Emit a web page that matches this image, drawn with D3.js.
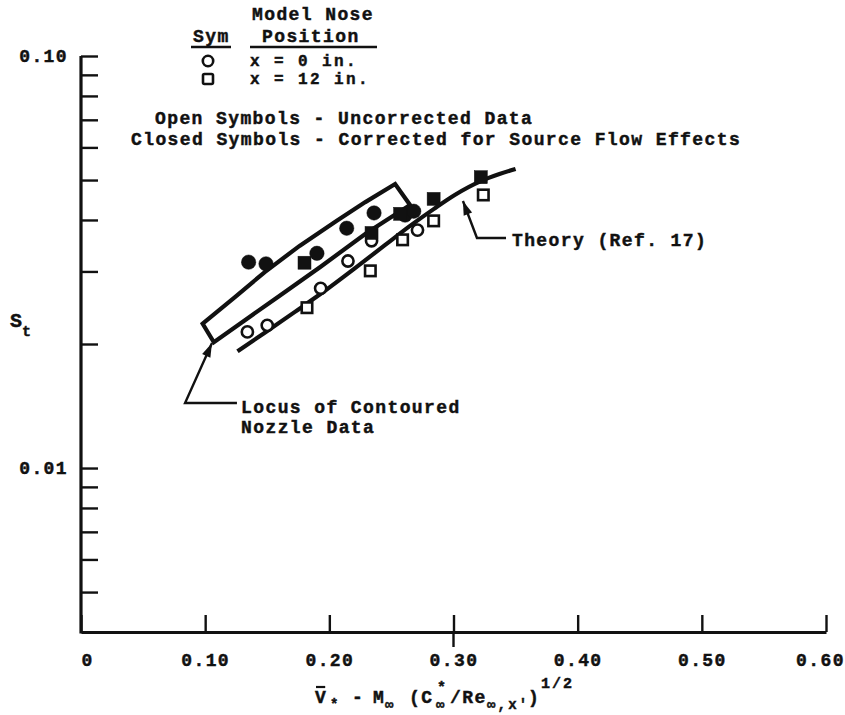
<!DOCTYPE html>
<html>
<head>
<meta charset="utf-8">
<script src="https://cdn.jsdelivr.net/npm/d3@7"></script>
<style>
  body { margin: 0; background: #fff; }
  text { font-family: "Liberation Mono", "DejaVu Sans Mono", monospace; font-weight: bold; fill: #111; stroke: #111; stroke-width: 0.45px; }
</style>
</head>
<body>
<svg id="chart" width="845" height="715"></svg>
<script>
// Stanton number vs. viscous interaction parameter, x = 0 and x = 12 in. nose positions

const xTicks = [0, 0.10, 0.20, 0.30, 0.40, 0.50, 0.60];
const xTickLabels = ["0", "0.10", "0.20", "0.30", "0.40", "0.50", "0.60"];
const yTicks = [0.005, 0.006, 0.007, 0.008, 0.009, 0.01, 0.02, 0.03, 0.04, 0.05, 0.06, 0.07, 0.08, 0.09, 0.10];
const yLabelValues = [0.01, 0.10];
const yLabelText = ["0.01", "0.10"];

// x = 0 in., uncorrected (open circles)
const openCircleV = [0.134, 0.150, 0.193, 0.215, 0.234, 0.271];
const openCircleS = [0.0214, 0.0222, 0.0273, 0.0318, 0.0356, 0.0378];
// x = 0 in., corrected for source flow (closed circles)
const closedCircleV = [0.135, 0.149, 0.190, 0.214, 0.236, 0.261, 0.268];
const closedCircleS = [0.0316, 0.0313, 0.0332, 0.0382, 0.0416, 0.0411, 0.0420];
// x = 12 in., uncorrected (open squares)
const openSquareV = [0.182, 0.233, 0.259, 0.284, 0.324];
const openSquareS = [0.0245, 0.0301, 0.0358, 0.0398, 0.0460];
// x = 12 in., corrected for source flow (closed squares)
const closedSquareV = [0.180, 0.234, 0.257, 0.284, 0.322];
const closedSquareS = [0.0315, 0.0372, 0.0414, 0.0450, 0.0508];

// Theory (Ref. 17)
const theoryV = [0.126, 0.148, 0.172, 0.197, 0.221, 0.245, 0.265, 0.284, 0.301, 0.322, 0.337, 0.350];
const theoryS = [0.0192, 0.0213, 0.0239, 0.0270, 0.0306, 0.0348, 0.0387, 0.0425, 0.0460, 0.0497, 0.0517, 0.0532];

// Locus of contoured nozzle data: upper edge left to right, then lower edge right to left
const locusV = [0.098, 0.124, 0.148, 0.176, 0.206, 0.229, 0.253, 0.265, 0.230, 0.193, 0.160, 0.136, 0.107];
const locusS = [0.0224, 0.0260, 0.0299, 0.0346, 0.0398, 0.0442, 0.0489, 0.0435, 0.0372, 0.0308, 0.0262, 0.0233, 0.0202];

// Leader lines (V, St) for the two callouts
const locusLeaderV = [0.1256, 0.0838, 0.1055];
const locusLeaderS = [0.01438, 0.01438, 0.0201];
const theoryLeaderV = [0.3423, 0.3189, 0.3076];
const theoryLeaderS = [0.03616, 0.03616, 0.04446];

const legendSymbols = ["circle", "square"];
const legendLabels = ["x = 0 in.", "x = 12 in."];

const svg = d3.select("#chart");
const x = d3.scaleLinear().domain([0, 0.6]).range([81, 826]);
const y = d3.scaleLog().domain([0.004, 0.1]).range([632, 56]);

const INK = "#111";
const FS = 18, LS = 1.4;

// ---- axes ----
const yAxis = d3.axisLeft(y)
  .tickValues(yTicks)
  .tickSizeInner(-17).tickSizeOuter(0).tickPadding(13)
  .tickFormat(d => {
    const i = yLabelValues.findIndex(v => Math.abs(v - d) < 1e-9);
    return i >= 0 ? yLabelText[i] : "";
  });
const gy = svg.append("g").attr("transform", `translate(${x(0)},0)`).call(yAxis);

const xAxis = d3.axisBottom(x)
  .tickValues(xTicks)
  .tickSizeInner(-17).tickSizeOuter(0).tickPadding(21)
  .tickFormat((d, i) => xTickLabels[i]);
const gx = svg.append("g").attr("transform", `translate(0,${y(0.004)})`).call(xAxis);

[gx, gy].forEach(g => {
  g.select(".domain").attr("stroke", INK).attr("stroke-width", 3.2);
  g.selectAll(".tick line").attr("stroke", INK).attr("stroke-width", 2.4);
  g.selectAll(".tick text").attr("font-size", FS).attr("letter-spacing", LS)
    .attr("font-family", null).attr("fill", INK);
});
// extend the y axis down to meet the x axis
gy.select(".domain").attr("d", `M0,${y(0.1)}V${y(0.004) + 1.5}`);
// end labels nudged inward at the two ends of the x axis
gx.selectAll(".tick text").filter(d => d === 0).attr("dx", 6);
gx.selectAll(".tick text").filter(d => d === 0.6).attr("dx", -6);
// 0.30 tick crosses the axis line
gx.append("line").attr("x1", x(0.30)).attr("x2", x(0.30)).attr("y1", 0).attr("y2", 15)
  .attr("stroke", INK).attr("stroke-width", 2.4);

// ---- axis titles ----
const yTitle = svg.append("text").attr("x", 10).attr("y", 327).attr("font-size", FS + 2);
yTitle.append("tspan").text("S");
yTitle.append("tspan").attr("font-size", 15).attr("dy", 9).text("t");

// x title: V-bar(*) - M(inf) (C*(inf)/Re(inf,x'))^1/2
const xt = svg.append("text").attr("y", 703).attr("font-size", FS);
const main = (xp, s) => xt.append("tspan").attr("x", xp).attr("y", 703).attr("letter-spacing", LS).text(s);
const sub = (xp, s) => xt.append("tspan").attr("x", xp).attr("y", 709).attr("font-size", 14)
  .attr("letter-spacing", 2.2).text(s);
const sup = (xp, yp, s) => xt.append("tspan").attr("x", xp).attr("y", yp).attr("font-size", 15)
  .attr("letter-spacing", 2.0).text(s);
main(315, "V");
sub(330, "*");
main(352, "-");
main(373, "M");
sub(385, "\u221E");
main(409, "(C");
sup(437, 692, "*");
sub(436, "\u221E");
main(450, "/Re");
sub(487, "\u221E,x'");
main(528, ")");
sup(541, 688, "1/2");
{
  const ext = xt.node().getExtentOfChar(0);
  svg.append("line").attr("x1", ext.x + 1).attr("x2", ext.x + ext.width - 2)
    .attr("y1", ext.y - 1).attr("y2", ext.y - 1).attr("stroke", INK).attr("stroke-width", 2.2);
}

// ---- curves ----
const line = d3.line().x(d => x(d[0])).y(d => y(d[1]));

const locusPts = locusV.map((v, i) => [v, locusS[i]]);
svg.append("path").attr("d", line(locusPts) + "Z")
  .attr("fill", "none").attr("stroke", INK).attr("stroke-width", 4.2).attr("stroke-linejoin", "miter");

const theoryPts = theoryV.map((v, i) => [v, theoryS[i]]);
svg.append("path").attr("d", line.curve(d3.curveMonotoneX)(theoryPts))
  .attr("fill", "none").attr("stroke", INK).attr("stroke-width", 4.2);
line.curve(d3.curveLinear);

// ---- callouts ----
function leader(vs, ss) {
  const pts = vs.map((v, i) => [x(v), y(ss[i])]);
  svg.append("path").attr("d", d3.line()(pts)).attr("fill", "none")
    .attr("stroke", INK).attr("stroke-width", 2.4);
  const [a, b] = [pts[pts.length - 2], pts[pts.length - 1]];
  const ang = Math.atan2(b[1] - a[1], b[0] - a[0]);
  const L = 14, W = 4.5;
  const bx = b[0] - L * Math.cos(ang), by = b[1] - L * Math.sin(ang);
  const px = -Math.sin(ang) * W, py = Math.cos(ang) * W;
  svg.append("path")
    .attr("d", `M${b[0]},${b[1]}L${bx + px},${by + py}L${bx - px},${by - py}Z`)
    .attr("fill", INK);
}
leader(locusLeaderV, locusLeaderS);
leader(theoryLeaderV, theoryLeaderS);

svg.append("text").attr("x", x(0.1289)).attr("y", y(0.01360)).attr("font-size", FS)
  .attr("letter-spacing", LS).text("Locus of Contoured");
svg.append("text").attr("x", x(0.1289)).attr("y", y(0.01216)).attr("font-size", FS)
  .attr("letter-spacing", LS).text("Nozzle Data");
svg.append("text").attr("x", x(0.3471)).attr("y", y(0.03458)).attr("font-size", FS)
  .attr("letter-spacing", LS).text("Theory (Ref. 17)");

// ---- symbols ----
function circles(vs, ss, filled) {
  svg.append("g").selectAll("circle").data(vs).join("circle")
    .attr("cx", d => x(d)).attr("cy", (d, i) => y(ss[i]))
    .attr("r", filled ? 7.2 : 5.6)
    .attr("fill", filled ? INK : "#fff")
    .attr("stroke", INK).attr("stroke-width", filled ? 0.5 : 2.6);
}
function squares(vs, ss, filled) {
  const s = filled ? 13 : 10.5;
  svg.append("g").selectAll("rect").data(vs).join("rect")
    .attr("x", d => x(d) - s / 2).attr("y", (d, i) => y(ss[i]) - s / 2)
    .attr("width", s).attr("height", s)
    .attr("fill", filled ? INK : "#fff")
    .attr("stroke", INK).attr("stroke-width", filled ? 0.5 : 2.6);
}
circles(openCircleV, openCircleS, false);
squares(openSquareV, openSquareS, false);
circles(closedCircleV, closedCircleS, true);
squares(closedSquareV, closedSquareS, true);

// ---- legend ----
const lg = svg.append("g");
function ltext(xp, yp, str, fs = FS, ls = LS) {
  return lg.append("text").attr("x", xp).attr("y", yp).attr("font-size", fs)
    .attr("letter-spacing", ls).text(str);
}
ltext(252, 20, "Model Nose");
ltext(193, 42, "Sym");
ltext(262, 42, "Position");
lg.append("line").attr("x1", 191).attr("x2", 231).attr("y1", 47).attr("y2", 47)
  .attr("stroke", INK).attr("stroke-width", 2.4);
lg.append("line").attr("x1", 250).attr("x2", 377).attr("y1", 47).attr("y2", 47)
  .attr("stroke", INK).attr("stroke-width", 2.4);
legendSymbols.forEach((sym, i) => {
  const cy = 61 + i * 18;
  if (sym === "circle") {
    lg.append("circle").attr("cx", 208).attr("cy", cy).attr("r", 5.2)
      .attr("fill", "#fff").attr("stroke", INK).attr("stroke-width", 2.6);
  } else {
    lg.append("rect").attr("x", 203).attr("y", cy - 5).attr("width", 10).attr("height", 10)
      .attr("rx", 1.5).attr("fill", "#fff").attr("stroke", INK).attr("stroke-width", 2.6);
  }
  ltext(250, cy + 5, legendLabels[i], 16, 2.4);
});
ltext(155, 124, "Open Symbols - Uncorrected Data");
ltext(131, 145, "Closed Symbols - Corrected for Source Flow Effects");
</script>
</body>
</html>
